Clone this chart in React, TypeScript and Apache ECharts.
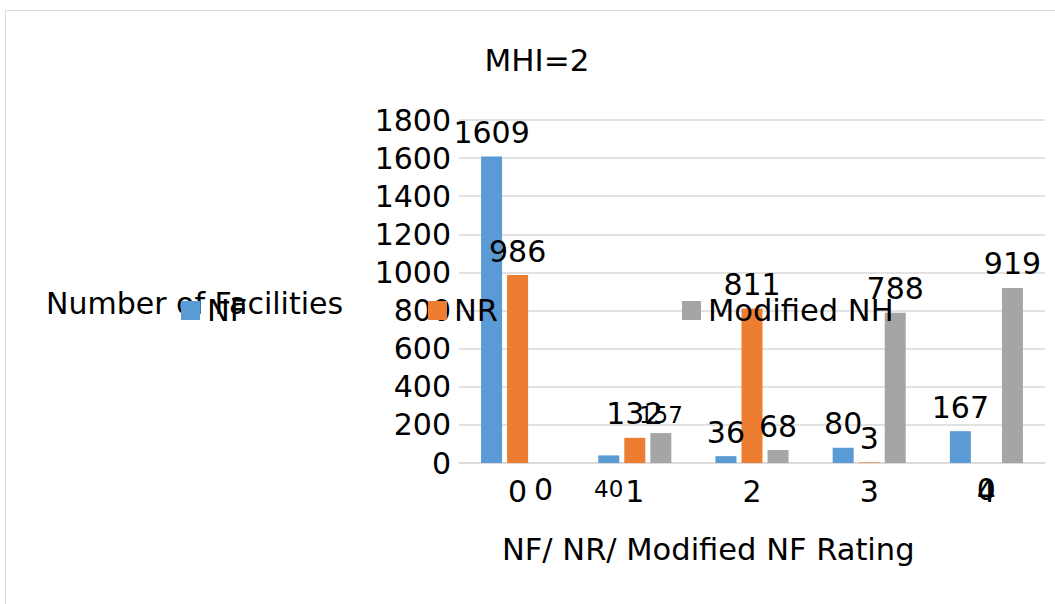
import React, { useEffect, useRef } from "react";
import * as echarts from "echarts";

const categories = ["0", "1", "2", "3", "4"];
const nfValues = [1609, 40, 36, 80, 167];
const nrValues = [986, 132, 811, 3, 0];
const modValues = [0, 157, 68, 788, 919];
const yTicks = [0, 200, 400, 600, 800, 1000, 1200, 1400, 1600, 1800];

const FONT = "DejaVu Sans";
const FS = 30;

export default function App() {
  const ref = useRef<HTMLDivElement>(null);
  useEffect(() => {
    if (!ref.current) return;
    const chart = echarts.init(ref.current, null, { renderer: "svg" });
    const lbl = (v: number, extra: any = {}) => ({
      value: v,
      label: { show: true, ...extra },
    });
    const zeroLabel = { position: "bottom", distance: 11 };
    const nfData = nfValues.map((v, i) =>
      i === 1 ? lbl(v, { position: "insideBottom", offset: [0, 46], fontSize: 23 }) : lbl(v)
    );
    const nrData = nrValues.map((v) => (v === 0 ? lbl(v, zeroLabel) : lbl(v)));
    const modData = modValues.map((v, i) =>
      v === 0 ? lbl(v, zeroLabel) : i === 1 ? lbl(v, { fontSize: 23, offset: [0, 2] }) : lbl(v)
    );
    const common = {
      type: "bar",
      barWidth: 21,
      barGap: "24%",
      label: {
        show: true,
        position: "top",
        distance: 9,
        color: "#000",
        fontFamily: FONT,
        fontSize: FS,
      },
    };
    chart.setOption({
      animation: false,
      backgroundColor: "#fff",
      title: {
        text: "MHI=2",
        left: 532,
        top: 39,
        textAlign: "center",
        textStyle: { fontFamily: FONT, fontSize: 31, fontWeight: "normal", color: "#000" },
      },
      legend: [
        { data: ["NF"], left: 176 },
        { data: ["NR"], left: 423 },
        { data: ["Modified NH"], left: 677 },
      ].map((l) => ({
        ...l,
        top: 290,
        itemWidth: 19,
        itemHeight: 19,
        itemGap: 0,
        icon: "rect",
        textStyle: { fontFamily: FONT, fontSize: 30.5, color: "#000", padding: [0, 0, 0, 2] },
      })),
      grid: { left: 459, right: 10, top: 120, bottom: 141, containLabel: false },
      xAxis: {
        type: "category",
        data: categories,
        axisTick: { show: false },
        axisLine: { lineStyle: { color: "#d9d9d9", width: 1.5 } },
        axisLabel: { fontFamily: FONT, fontSize: FS, color: "#000", margin: 13 },
      },
      yAxis: {
        type: "value",
        min: yTicks[0],
        max: yTicks[yTicks.length - 1],
        interval: 200,
        axisLine: { show: false },
        axisTick: { show: false },
        axisLabel: { fontFamily: FONT, fontSize: FS, color: "#000", margin: 8, formatter: (v: number) => String(v) },
        splitLine: { lineStyle: { color: "#d9d9d9", width: 1.5 } },
      },
      graphic: [
        {
          type: "rect",
          shape: { x: 5.5, y: 10.5, width: 1060, height: 610 },
          style: { fill: "none", stroke: "#d9d9d9", lineWidth: 1 },
          z: -1,
        },
        {
          type: "text",
          left: 46,
          top: 288,
          style: { text: "Number of Facilities", fontFamily: FONT, fontSize: FS, fill: "#000" },
        },
        {
          type: "text",
          left: 502,
          top: 534,
          style: { text: "NF/ NR/ Modified NF Rating", fontFamily: FONT, fontSize: 30.5, fill: "#000" },
        },
      ],
      series: [
        { ...common, name: "NF", data: nfData, itemStyle: { color: "#5b9bd5" } },
        { ...common, name: "NR", data: nrData, itemStyle: { color: "#ed7d31" } },
        { ...common, name: "Modified NH", data: modData, itemStyle: { color: "#a5a5a5" } },
      ],
    });
    return () => chart.dispose();
  }, []);
  return <div ref={ref} style={{ width: 1055, height: 604, position: "absolute", left: 0, top: 0 }} />;
}
